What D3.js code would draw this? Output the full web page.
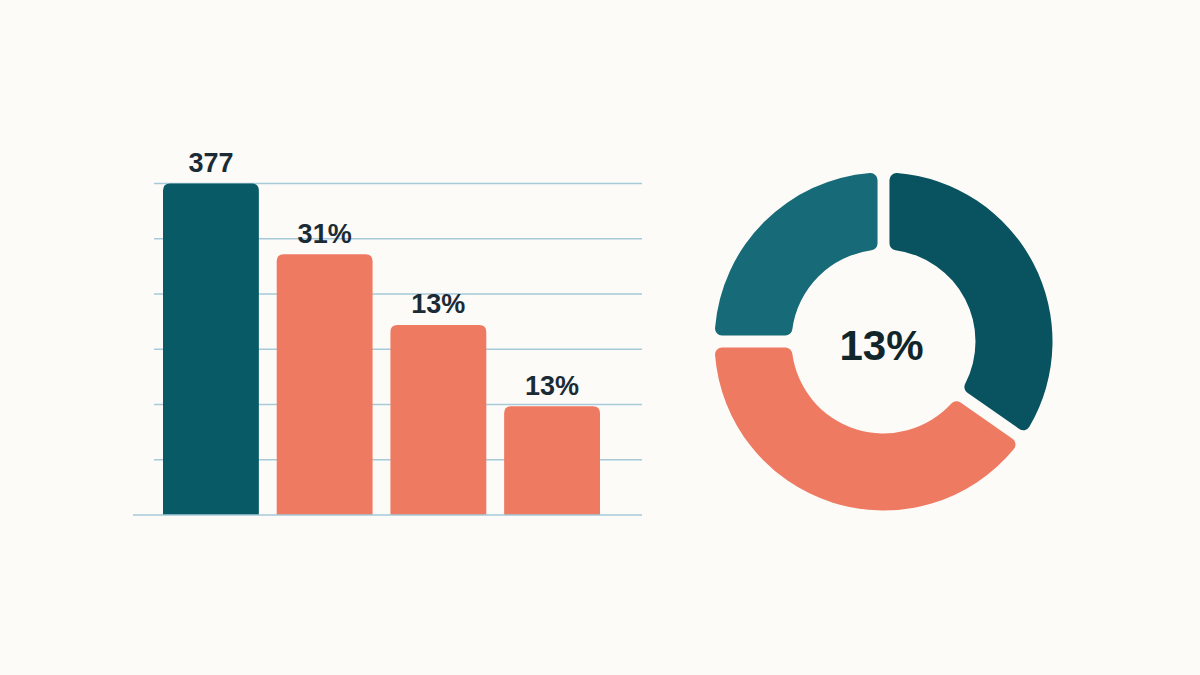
<!DOCTYPE html>
<html>
<head>
<meta charset="utf-8">
<script src="https://cdn.jsdelivr.net/npm/d3@7"></script>
<style>
  html, body { margin: 0; padding: 0; background: #fcfbf8; }
  svg { display: block; }
</style>
</head>
<body>
<svg></svg>
<script>
// Bar data (heights in gridline units, labels as shown on the chart)
const barCategories = ["A", "B", "C", "D"];
const barValues = [6, 4.72, 3.44, 1.97];
const barLabels = ["377", "31%", "13%", "13%"];
const barColors = ["#075a66", "#ef7a62", "#ef7a62", "#ef7a62"];

// Donut data (share of the ring)
const donutValues = [34.7, 40.3, 25];
const donutColors = ["#08535f", "#ef7a62", "#176a77"];
const donutLabel = "13%";

const W = 1200, H = 675;
const svg = d3.select("svg").attr("width", W).attr("height", H);

svg.append("rect").attr("width", W).attr("height", H).attr("fill", "#fcfbf8");

// Scales
const x = d3.scaleBand()
  .domain(barCategories)
  .range([163, 600])
  .paddingInner(0.157)
  .paddingOuter(0);

const y = d3.scaleLinear()
  .domain([0, 6])
  .range([515, 183.5]);

// Gridlines
svg.append("g")
  .selectAll("line")
  .data(y.ticks(6).filter(d => d > 0))
  .join("line")
  .attr("x1", 154)
  .attr("x2", 642)
  .attr("y1", d => y(d))
  .attr("y2", d => y(d))
  .attr("stroke", "#a6cad8")
  .attr("stroke-width", 1.3);

// Bars with rounded top corners
function topRounded(x0, y0, w, h, r) {
  return `M${x0},${y0 + h}V${y0 + r}Q${x0},${y0} ${x0 + r},${y0}` +
    `H${x0 + w - r}Q${x0 + w},${y0} ${x0 + w},${y0 + r}V${y0 + h}Z`;
}

svg.append("g")
  .selectAll("path")
  .data(barValues)
  .join("path")
  .attr("d", (d, i) => topRounded(x(barCategories[i]), y(d), x.bandwidth(), y(0) - y(d), 7))
  .attr("fill", (d, i) => barColors[i]);

// Baseline
svg.append("line")
  .attr("x1", 133).attr("x2", 642)
  .attr("y1", y(0)).attr("y2", y(0))
  .attr("stroke", "#a6cad8")
  .attr("stroke-width", 1.6);

// Value labels
svg.append("g")
  .selectAll("text")
  .data(barValues)
  .join("text")
  .attr("x", (d, i) => x(barCategories[i]) + x.bandwidth() / 2)
  .attr("y", d => y(d) - 11.5)
  .attr("text-anchor", "middle")
  .style("font-family", "'Liberation Sans', Arial, sans-serif")
  .style("font-weight", "bold")
  .style("font-size", "27px")
  .attr("fill", "#1b2b35")
  .text((d, i) => barLabels[i]);

// Donut
const pie = d3.pie().sort(null).value(d => d);
const arc = d3.arc()
  .innerRadius(92)
  .outerRadius(169)
  .cornerRadius(7)
  .padAngle(0.062);

const donut = svg.append("g")
  .attr("transform", "translate(883.5, 341.5)");

donut.selectAll("path")
  .data(pie(donutValues))
  .join("path")
  .attr("d", arc)
  .attr("fill", (d, i) => donutColors[i]);

donut.append("text")
  .attr("y", 18.5)
  .attr("x", -2)
  .attr("text-anchor", "middle")
  .style("font-family", "'Liberation Sans', Arial, sans-serif")
  .style("font-weight", "bold")
  .style("font-size", "42px")
  .attr("fill", "#10262a")
  .text(donutLabel);
</script>
</body>
</html>
